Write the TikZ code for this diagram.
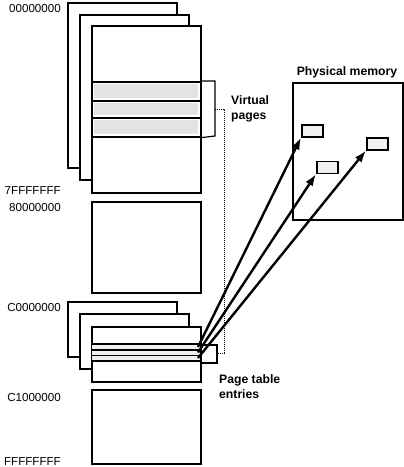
\documentclass[tikz,border=0pt]{standalone}
\usepackage{fontspec}
\setmainfont{Liberation Sans}
\usetikzlibrary{arrows.meta}
\begin{document}
\begin{tikzpicture}[x=1pt,y=-1pt,
  mem/.style={draw, line width=1.6pt, fill=white, inner sep=0pt, anchor=north west},
  band/.style={draw, line width=1.6pt, fill=white, inner sep=0pt, anchor=north west},
  addr/.style={anchor=base east, inner sep=0pt, font=\fontsize{11.6}{13}\selectfont},
  lbl/.style={anchor=north west, inner sep=0pt, align=left, font=\fontsize{12.2}{14.5}\selectfont\bfseries},
  pbox/.style={draw, line width=1.5pt, fill=gray!12, inner sep=0pt, anchor=north west, minimum width=21pt, minimum height=12pt},
  arr/.style={line width=2.4pt, -{Latex[length=12pt,width=8.5pt]}},
  dots/.style={line width=1pt, densely dotted}
]
\useasboundingbox (0,0) rectangle (404,467);
% top stack
\node[mem, minimum width=109pt, minimum height=165pt] (tb) at (67,2) {};
\node[mem, minimum width=109pt, minimum height=165pt] (tm) at (79,14) {};
\node[mem, minimum width=109pt, minimum height=167pt] (tf) at (91,25) {};
% virtual pages bands
\foreach \y/\h [count=\i] in {81/19,100/17,117/19}{
  \node[band, minimum width=109pt, minimum height=\h pt] (vp\i) at (91,\y) {};
  \fill[gray!22] (93.5,\y+2.5) rectangle (197.5,\y+\h-2.5);
}
% bracket
\coordinate (brt) at (215,81);
\coordinate (brb) at (215,136);
\draw[line width=1.2pt] (vp1.north east) -- (brt) -- (brb) -- (vp3.south east);
\coordinate (brm) at (215,109);
% 80000000 rect
\node[mem, minimum width=109pt, minimum height=91pt] (kr) at (91,201) {};
% bottom stack
\node[mem, minimum width=109pt, minimum height=55pt] (bb) at (67,301) {};
\node[mem, minimum width=109pt, minimum height=55pt] (bm) at (79,313) {};
\node[mem, minimum width=22pt, minimum height=18pt] (pte) at (194,344) {};
\node[mem, minimum width=109pt, minimum height=55pt] (bf) at (91,326) {};
\fill[gray!12] (92,345) rectangle (199,360);
\draw[line width=1.6pt] (91,344) -- (200,344);
\draw[line width=1.3pt] (91,350) -- (200,350);
\draw[line width=1.3pt] (91,355.5) -- (200,355.5);
\draw[line width=1.6pt] (91,361) -- (200,361);
% C1000000 rect
\node[mem, minimum width=109pt, minimum height=74pt] (cr) at (91,389) {};
% dotted connector
\coordinate (d1) at (224,109);
\coordinate (d2) at (224,353);
\draw[dots] (brm) -- (d1) -- (d2) -- (pte.east |- d2);
% physical memory
\node[mem, minimum width=110pt, minimum height=137pt] (pm) at (292,82) {};
\node[anchor=base, inner sep=0pt, font=\fontsize{12.2}{14}\selectfont\bfseries] (pmt) at (347,75) {Physical memory};
\node[pbox] (p1) at (301,124) {};
\node[pbox] (p2) at (316,160.5) {};
\node[pbox] (p3) at (366,137) {};
% arrows
\coordinate (s1) at (198,347);
\coordinate (s2) at (198,352.5);
\coordinate (s3) at (198,358);
\draw[arr] (s1) -- (p1.south west);
\draw[arr] (s2) -- (p2.south west);
\draw[arr] (s3) -- (p3.south west);
% labels
\node[addr] (a0) at (61,12) {00000000};
\node[addr] (a7) at (61,194) {7FFFFFFF};
\node[addr] (a8) at (61,211) {80000000};
\node[addr] (ac) at (61,311) {C0000000};
\node[addr] (ac1) at (61,401) {C1000000};
\node[addr] (af) at (61,465) {FFFFFFFF};
\node[lbl] (vpl) at (231,95.5) {Virtual\\pages};
\node[lbl] (ptl) at (219,374.5) {Page table\\entries};
\end{tikzpicture}
\end{document}
